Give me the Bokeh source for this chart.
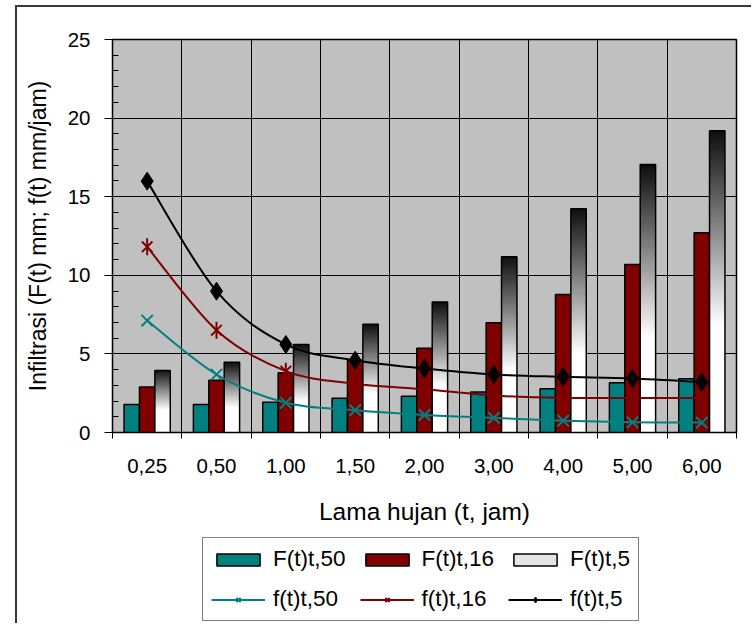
import numpy as np
from bokeh.plotting import figure
from bokeh.layouts import column
from bokeh.models import FixedTicker, Legend, LegendItem
from bokeh.embed import file_html
from bokeh.resources import INLINE

categories = ["0,25", "0,50", "1,00", "1,50", "2,00", "3,00", "4,00", "5,00", "6,00"]
F50 = [1.78, 1.78, 1.93, 2.18, 2.30, 2.58, 2.78, 3.16, 3.42]
F16 = [2.90, 3.33, 3.80, 4.60, 5.36, 6.98, 8.78, 10.69, 12.70]
F5 = [3.94, 4.47, 5.60, 6.89, 8.30, 11.18, 14.23, 17.05, 19.20]
f50 = [7.12, 3.69, 1.89, 1.42, 1.12, 0.93, 0.75, 0.65, 0.63]
f16 = [11.81, 6.51, 3.90, 3.10, 2.75, 2.35, 2.20, 2.20, 2.20]
f5 = [15.99, 8.99, 5.60, 4.60, 4.07, 3.69, 3.54, 3.43, 3.20]

FONT = "Liberation Sans"
TEAL = "#008080"
DRED = "#800000"
BORDER = "2px solid #3a3a3a"

n = len(categories)
xc = np.arange(n, dtype=float)
bw = 1.0 / 4.5

p = figure(width=736, height=528, x_range=(-0.5, n - 0.5), y_range=(0, 25),
           output_backend="svg", toolbar_location=None,
           min_border_left=95, min_border_right=17, min_border_top=32, min_border_bottom=103,
           background_fill_color="#c0c0c0", border_fill_color="white",
           outline_line_color="black", outline_line_width=1.5)
p.margin = (5, 0, 0, 15)
p.styles = {"border-top": BORDER, "border-left": BORDER}

# axes
p.xaxis.ticker = FixedTicker(ticks=list(xc), minor_ticks=list(np.arange(-0.5, n, 1.0)))
p.xaxis.major_label_overrides = {i: c for i, c in enumerate(categories)}
p.xaxis.major_tick_out = 0
p.xaxis.major_tick_in = 0
p.xaxis.minor_tick_out = 6
p.xaxis.minor_tick_in = 0
p.xaxis.major_label_standoff = 20
p.xaxis.axis_label = "Lama hujan (t, jam)"
p.xaxis.axis_label_standoff = 22

p.yaxis.ticker = FixedTicker(ticks=[0, 5, 10, 15, 20, 25], minor_ticks=list(range(26)))
p.yaxis.major_tick_out = 8
p.yaxis.major_tick_in = 0
p.yaxis.minor_tick_out = 0
p.yaxis.minor_tick_in = 6
p.yaxis.major_label_standoff = 14
p.yaxis.axis_label = "Infiltrasi (F(t) mm; f(t) mm/jam)"
p.yaxis.axis_label_standoff = 14

for ax in (p.xaxis[0], p.yaxis[0]):
    ax.axis_line_color = "black"
    ax.major_tick_line_color = "black"
    ax.minor_tick_line_color = "black"
    ax.major_label_text_font = FONT
    ax.major_label_text_font_size = "20.5px"
    ax.major_label_text_color = "black"
    ax.axis_label_text_font = FONT
    ax.axis_label_text_font_style = "normal"
    ax.axis_label_text_color = "black"
p.xaxis.axis_label_text_font_size = "24.5px"
p.yaxis.axis_label_text_font_size = "23px"

p.xgrid.ticker = FixedTicker(ticks=list(np.arange(0.5, n - 1, 1.0)))
p.xgrid.grid_line_color = "black"
p.ygrid.grid_line_color = "black"
p.xgrid.grid_line_width = 1
p.ygrid.grid_line_width = 1

# bars
p.quad(left=xc - 1.5 * bw, right=xc - 0.5 * bw, bottom=0, top=F50,
       fill_color=TEAL, line_color="black", line_width=1.5)
p.quad(left=xc - 0.5 * bw, right=xc + 0.5 * bw, bottom=0, top=F16,
       fill_color=DRED, line_color="black", line_width=1.5)

# gradient bars (black top -> white bottom)
N = 128
frac_from_top = 1 - np.arange(N) / (N - 1)
gray = np.clip(0.06 + 1.45 * frac_from_top, 0, 1)
rgba = np.zeros((N, 1, 4), dtype=np.uint8)
g8 = (gray * 255).astype(np.uint8)
rgba[:, 0, 0] = g8
rgba[:, 0, 1] = g8
rgba[:, 0, 2] = g8
rgba[:, 0, 3] = 255
img = rgba.view(dtype=np.uint32).reshape((N, 1))
p.image_rgba(image=[img] * n, x=list(xc + 0.5 * bw), y=[0] * n, dw=[bw] * n, dh=F5)
p.quad(left=xc + 0.5 * bw, right=xc + 1.5 * bw, bottom=0, top=F5,
       fill_color=None, line_color="black", line_width=1.5)


def smooth(xs, ys):
    xs = list(xs); ys = list(ys)
    m = len(xs)
    out = {k: [] for k in ("x0", "y0", "x1", "y1", "cx0", "cy0", "cx1", "cy1")}
    for i in range(m - 1):
        i0 = max(i - 1, 0); i3 = min(i + 2, m - 1)
        out["x0"].append(xs[i]); out["y0"].append(ys[i])
        out["x1"].append(xs[i + 1]); out["y1"].append(ys[i + 1])
        out["cx0"].append(xs[i] + (xs[i + 1] - xs[i0]) / 6.0)
        out["cy0"].append(ys[i] + (ys[i + 1] - ys[i0]) / 6.0)
        out["cx1"].append(xs[i + 1] - (xs[i3] - xs[i]) / 6.0)
        out["cy1"].append(ys[i + 1] - (ys[i3] - ys[i]) / 6.0)
    return out


# f(t)t,50
p.bezier(**smooth(xc, f50), line_color=TEAL, line_width=2)
p.scatter(x=xc, y=f50, marker="x", size=16, line_color=TEAL, line_width=2)
# f(t)t,16 (six-armed star: x + vertical bar)
p.bezier(**smooth(xc, f16), line_color=DRED, line_width=2)
p.scatter(x=xc, y=f16, marker="x", size=15, line_color=DRED, line_width=2)
p.scatter(x=xc, y=f16, marker="dash", angle=np.pi / 2, size=17, line_color=DRED, line_width=2)
# f(t)t,5
p.bezier(**smooth(xc, f5), line_color="black", line_width=2)
p.scatter(x=xc, y=f5, marker="diamond", size=18, line_color="black", fill_color="black", line_width=1)

# ---- legend strip (separate figure below the chart) ----
lf = figure(width=736, height=90, x_range=(0, 1), y_range=(0, 1),
            output_backend="svg", toolbar_location=None,
            x_axis_location=None, y_axis_location=None, min_border=0,
            outline_line_color=None, background_fill_color="white", border_fill_color="white")
lf.grid.visible = False
lf.margin = (0, 0, 0, 15)
lf.styles = {"border-left": BORDER}

off = dict(visible=False)
g50 = lf.quad(left=[5], right=[6], bottom=[5], top=[6], fill_color=TEAL, line_color="black", line_width=1.5, **off)
g16 = lf.quad(left=[5], right=[6], bottom=[5], top=[6], fill_color=DRED, line_color="black", line_width=1.5, **off)
g5 = lf.quad(left=[5], right=[6], bottom=[5], top=[6], fill_color="#e4e4e4", line_color="black", line_width=1.5, **off)
l50 = lf.line(x=[5, 6], y=[5, 6], line_color=TEAL, line_width=2, **off)
m50 = lf.scatter(x=[5], y=[5], marker="x", size=16, line_color=TEAL, line_width=2, **off)
l16 = lf.line(x=[5, 6], y=[5, 6], line_color=DRED, line_width=2, **off)
m16a = lf.scatter(x=[5], y=[5], marker="x", size=15, line_color=DRED, line_width=2, **off)
m16b = lf.scatter(x=[5], y=[5], marker="dash", angle=np.pi / 2, size=17, line_color=DRED, line_width=2, **off)
l5 = lf.line(x=[5, 6], y=[5, 6], line_color="black", line_width=2, **off)
m5 = lf.scatter(x=[5], y=[5], marker="diamond", size=18, line_color="black", fill_color="black", **off)

legend = Legend(items=[
    LegendItem(label="F(t)t,50", renderers=[g50]),
    LegendItem(label="F(t)t,16", renderers=[g16]),
    LegendItem(label="F(t)t,5", renderers=[g5]),
    LegendItem(label="f(t)t,50", renderers=[l50, m50]),
    LegendItem(label="f(t)t,16", renderers=[l16, m16a, m16b]),
    LegendItem(label="f(t)t,5", renderers=[l5, m5]),
], nrows=2, orientation="horizontal", location=(90, 2))
legend.label_text_font = FONT
legend.label_text_font_size = "22.5px"
legend.label_text_color = "black"
legend.glyph_width = 54
legend.glyph_height = 15
legend.label_standoff = 8
legend.spacing = 14
legend.padding = 8
legend.margin = 0
legend.border_line_color = "black"
legend.border_line_width = 1.5
legend.background_fill_color = "white"
legend.background_fill_alpha = 1
lf.add_layout(legend, "center")

layout = column(p, lf, spacing=0)
open("out.html", "w").write(file_html(layout, INLINE))
